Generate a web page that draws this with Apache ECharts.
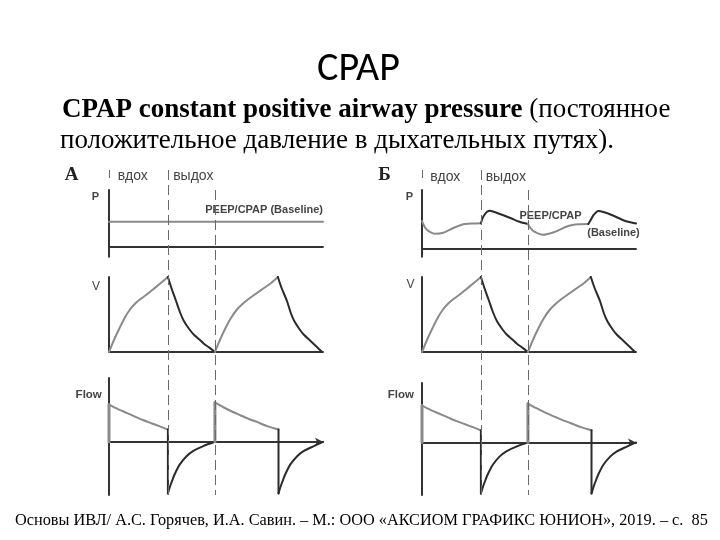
<!DOCTYPE html>
<html>
<head>
<meta charset="utf-8">
<script src="https://cdn.jsdelivr.net/npm/echarts@6/dist/echarts.min.js"></script>
<style>
html,body{margin:0;padding:0;background:#fff;}
#chart{width:720px;height:540px;}
</style>
</head>
<body>
<div id="chart"></div>
<script>
// ---------- DATA ----------
// time axis in arbitrary units; phase boundaries
const T_MAX = 10.1;
const phaseTimes = [0, 2.78, 5.0];

// Panel А: pressure (constant baseline)
const pressureA = [[0, 1], [10.1, 1]];

// Panel Б: pressure (fluctuating around baseline)
const pressureB_insp1 = [[0, 1.12], [0.15, 0.86], [0.35, 0.70], [0.6, 0.62], [1.0, 0.66], [1.48, 0.85], [1.95, 1.0], [2.4, 1.03], [2.78, 1.04]];
const pressureB_exp1  = [[2.78, 1.04], [2.86, 1.24], [2.95, 1.38], [3.07, 1.50], [3.2, 1.54], [3.55, 1.45], [4.2, 1.24], [4.6, 1.10], [5.0, 1.01]];
const pressureB_insp2 = [[5.0, 1.01], [5.12, 0.84], [5.3, 0.70], [5.7, 0.58], [6.25, 0.69], [6.9, 0.93], [7.38, 1.0], [7.85, 1.01]];
const pressureB_exp2  = [[7.85, 1.01], [7.97, 1.18], [8.09, 1.36], [8.32, 1.53], [8.6, 1.48], [8.95, 1.37], [9.6, 1.13], [10.1, 1.03]];

// Volume (both panels)
const volInsp1 = [[0, 0], [0.25, 0.17], [0.5, 0.32], [0.75, 0.46], [1.0, 0.57], [1.25, 0.65], [1.5, 0.71], [1.8, 0.77], [2.1, 0.84], [2.45, 0.92], [2.78, 1.0]];
const volExp1  = [[2.78, 1.0], [2.95, 0.85], [3.14, 0.70], [3.35, 0.53], [3.54, 0.41], [3.8, 0.30], [4.01, 0.23], [4.25, 0.17], [4.48, 0.11], [4.75, 0.055], [5.0, 0]];
const volInsp2 = [[5.0, 0], [5.25, 0.17], [5.5, 0.32], [5.75, 0.45], [6.02, 0.56], [6.3, 0.64], [6.6, 0.71], [6.95, 0.78], [7.3, 0.85], [7.65, 0.92], [7.97, 1.0]];
const volExp2  = [[7.97, 1.0], [8.15, 0.85], [8.4, 0.68], [8.58, 0.52], [8.75, 0.41], [9.0, 0.30], [9.2, 0.23], [9.5, 0.15], [9.8, 0.07], [10.06, 0]];

// Flow (both panels)
const flowJump1 = [[0, 0], [0, 0.70]];
const flowInsp1 = [[0, 0.70], [0.4, 0.62], [0.8, 0.55], [1.2, 0.48], [1.6, 0.41], [2.0, 0.35], [2.4, 0.29], [2.78, 0.23]];
const flowDrop1 = [[2.78, 0.23], [2.78, -0.97]];
const flowExp1  = [[2.78, -0.97], [2.88, -0.84], [3.0, -0.71], [3.11, -0.60], [3.35, -0.42], [3.66, -0.27], [3.98, -0.17], [4.45, -0.08], [5.0, 0]];
const flowJump2 = [[5.0, 0], [5.0, 0.74]];
const flowInsp2 = [[5.0, 0.74], [5.4, 0.65], [5.8, 0.57], [6.2, 0.50], [6.6, 0.43], [7.0, 0.37], [7.5, 0.29], [8.0, 0.23]];
const flowDrop2 = [[8.0, 0.23], [8.0, -0.97]];
const flowExp2  = [[8.0, -0.97], [8.1, -0.84], [8.22, -0.71], [8.33, -0.60], [8.57, -0.42], [8.88, -0.27], [9.2, -0.17], [9.67, -0.08], [10.1, 0]];

// Texts
const titleText = 'CPAP';
const subtitleBold = 'CPAP constant positive airway pressure';
const subtitleRest1 = ' (постоянное';
const subtitleLine2 = 'положительное давление в дыхательных путях).';
const footerText = 'Основы ИВЛ/ А.С. Горячев, И.А. Савин. – М.: ООО «АКСИОМ ГРАФИКС ЮНИОН», 2019. – с.  85';
const panelLetters = ['А', 'Б'];
const phaseLabels = ['вдох', 'выдох'];
const rowLabels = ['P', 'V', 'Flow'];
const annotA = 'PEEP/CPAP (Baseline)';
const annotB1 = 'PEEP/CPAP';
const annotB2 = '(Baseline)';

// ---------- LAYOUT / STYLE ----------
const GRAY = '#8a8a8a';
const DARK = '#2b2b2b';
const AXIS = '#333';
const colLeft = [109, 422];
const colWidth = 214;
const rowsByCol = [
  [{top: 190, height: 66.7}, {top: 277, height: 75}, {top: 378, height: 117}],
  [{top: 190, height: 66.7}, {top: 277, height: 75}, {top: 383, height: 112}]
];
const yRanges = [
  [{min: -0.4, max: 2.27}, {min: 0, max: 1}, {min: -1, max: 1.2}],
  [{min: -0.3, max: 2.37}, {min: 0, max: 1}, {min: -1, max: 1.13}]
];

const grids = [], xAxes = [], yAxes = [], series = [];
function gridIndex(col, row) { return col * 3 + row; }
for (let c = 0; c < 2; c++) {
  for (let r = 0; r < 3; r++) {
    grids.push({left: colLeft[c], width: colWidth, top: rowsByCol[c][r].top, height: rowsByCol[c][r].height});
    const gi = grids.length - 1;
    xAxes.push({
      gridIndex: gi, type: 'value', min: 0, max: T_MAX,
      axisLine: {show: true, onZero: true, lineStyle: {color: AXIS, width: 1.8},
        symbol: r === 2 ? ['none', 'arrow'] : ['none', 'none'], symbolSize: [6, 8]},
      axisTick: {show: false}, axisLabel: {show: false}, splitLine: {show: false}
    });
    yAxes.push({
      gridIndex: gi, type: 'value', min: yRanges[c][r].min, max: yRanges[c][r].max,
      axisLine: {show: true, onZero: false, lineStyle: {color: AXIS, width: 2}},
      axisTick: {show: false}, axisLabel: {show: false}, splitLine: {show: false}
    });
  }
}
// overlay grids for dashed phase lines
const overlayTop = 170, overlayHeight = 325;
const dashExtent = [[0, 8], [0, 325], [20, 325]];
for (let c = 0; c < 2; c++) {
  grids.push({left: colLeft[c], width: colWidth, top: overlayTop, height: overlayHeight});
  const gi = grids.length - 1;
  xAxes.push({gridIndex: gi, type: 'value', min: 0, max: T_MAX, show: false});
  yAxes.push({gridIndex: gi, type: 'value', min: 0, max: overlayHeight, inverse: true, show: false});
  series.push({
    type: 'line', xAxisIndex: gi, yAxisIndex: gi, data: [], silent: true,
    markLine: {
      silent: true, symbol: ['none', 'none'], animation: false,
      label: {show: false},
      lineStyle: {type: [10, 5], color: '#6a6a6a', width: 1},
      data: phaseTimes.map((t, i) => [
        {coord: [t, dashExtent[i][0]]}, {coord: [t, dashExtent[i][1]]}
      ])
    }
  });
}

function seg(gi, data, color, width, smooth) {
  series.push({
    type: 'line', xAxisIndex: gi, yAxisIndex: gi, data: data,
    showSymbol: false, symbol: 'none', smooth: smooth,
    animation: false, silent: true,
    lineStyle: {color: color, width: width, join: 'round', cap: 'round'}, z: 3
  });
}
// Panel А
seg(gridIndex(0, 0), pressureA, GRAY, 2, false);
// Panel Б pressure
seg(gridIndex(1, 0), pressureB_insp1, GRAY, 2, 0.25);
seg(gridIndex(1, 0), pressureB_exp1, DARK, 2, 0.25);
seg(gridIndex(1, 0), pressureB_insp2, GRAY, 2, 0.25);
seg(gridIndex(1, 0), pressureB_exp2, DARK, 2, 0.25);
for (let c = 0; c < 2; c++) {
  const gv = gridIndex(c, 1), gf = gridIndex(c, 2);
  seg(gv, volInsp1, GRAY, 2, 0.25);
  seg(gv, volExp1, DARK, 2, 0.25);
  seg(gv, volInsp2, GRAY, 2, 0.25);
  seg(gv, volExp2, DARK, 2, 0.25);
  seg(gf, flowJump1, GRAY, 3, false);
  seg(gf, flowInsp1, GRAY, 2, 0.25);
  seg(gf, flowDrop1, DARK, 2, false);
  seg(gf, flowExp1, DARK, 2, 0.25);
  seg(gf, flowJump2, GRAY, 3, false);
  seg(gf, flowInsp2, GRAY, 2, 0.25);
  seg(gf, flowDrop2, DARK, 2, false);
  seg(gf, flowExp2, DARK, 2, 0.25);
}

// ---------- TEXT (graphic) ----------
const SANS = '"Liberation Sans", Arial, sans-serif';
const SERIF = '"Liberation Serif", "Times New Roman", serif';
function txt(x, y, text, font, size, weight, color, align) {
  return {type: 'text', x: x, y: y, silent: true,
    style: {text: text, fontFamily: font, fontSize: size, fontWeight: weight || 'normal',
      fill: color || '#000', textAlign: align || 'center', textVerticalAlign: 'middle'}};
}
const graphics = [
  txt(358.5, 70, titleText, 'Carlito, "Open Sans", sans-serif', 40, 'normal', '#000'),
  {type: 'text', x: 62, y: 110, silent: true,
    style: {
      rich: {
        b: {fontFamily: SERIF, fontSize: 27, fontWeight: 'bold', fill: '#000'},
        n: {fontFamily: SERIF, fontSize: 27, fontWeight: 'normal', fill: '#000'}
      },
      text: '{b|' + subtitleBold + '}{n|' + subtitleRest1 + '}',
      textAlign: 'left', textVerticalAlign: 'middle'
    }},
  txt(60, 141, subtitleLine2, SERIF, 27, 'normal', '#000', 'left'),
  txt(15, 521, footerText, SERIF, 16.3, 'normal', '#000', 'left'),
  // panel letters
  txt(71.7, 175, panelLetters[0], SERIF, 19, 'bold', '#222'),
  txt(384.5, 175.5, panelLetters[1], SERIF, 19, 'bold', '#222'),
  // phase labels
  txt(132.8, 176, phaseLabels[0], SANS, 14, 'normal', '#444'),
  txt(193.3, 176, phaseLabels[1], SANS, 14, 'normal', '#444'),
  txt(445.3, 177, phaseLabels[0], SANS, 14, 'normal', '#444'),
  txt(505.8, 177, phaseLabels[1], SANS, 14, 'normal', '#444'),
  // row labels
  txt(95.5, 197, rowLabels[0], SANS, 11, 'bold', '#444'),
  txt(409.5, 197, rowLabels[0], SANS, 11, 'bold', '#444'),
  txt(96, 287, rowLabels[1], SANS, 12, 'normal', '#444'),
  txt(410.5, 285, rowLabels[1], SANS, 12, 'normal', '#444'),
  txt(88.7, 395, rowLabels[2], SANS, 11.5, 'bold', '#444'),
  txt(400.8, 395, rowLabels[2], SANS, 11.5, 'bold', '#444'),
  // annotations
  txt(323, 210, annotA, SANS, 11, 'bold', '#444', 'right'),
  txt(550.5, 215.5, annotB1, SANS, 11, 'bold', '#444'),
  txt(613.5, 233, annotB2, SANS, 11, 'bold', '#444')
];

const chart = echarts.init(document.getElementById('chart'), null, {renderer: 'canvas'});
chart.setOption({
  animation: false,
  backgroundColor: '#ffffff',
  grid: grids, xAxis: xAxes, yAxis: yAxes, series: series,
  graphic: graphics
});
</script>
</body>
</html>
